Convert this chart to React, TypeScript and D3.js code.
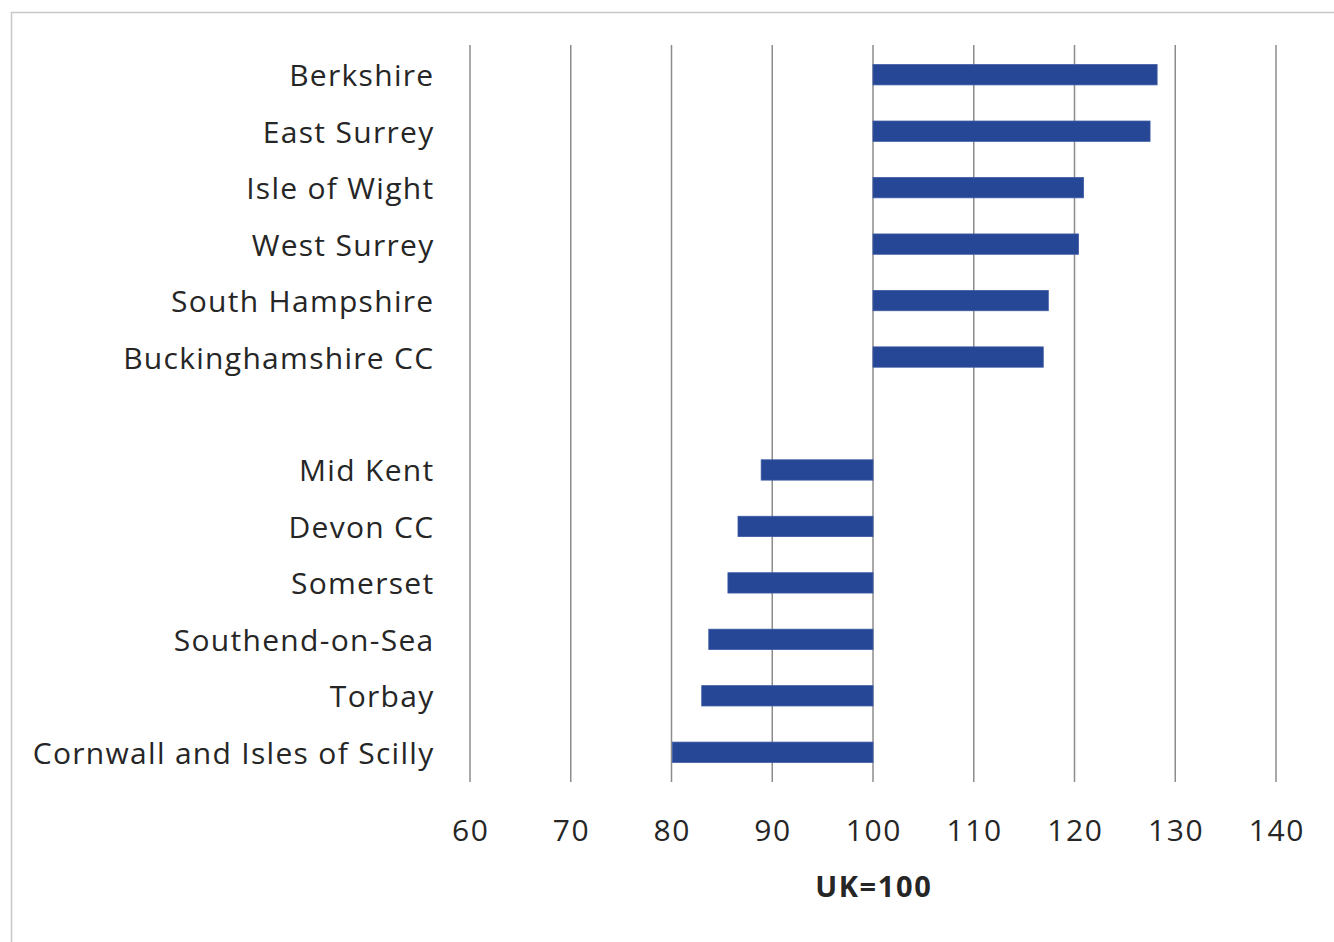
import React from "react";
import * as d3 from "d3";

const categories = [
  "Berkshire",
  "East Surrey",
  "Isle of Wight",
  "West Surrey",
  "South Hampshire",
  "Buckinghamshire CC",
  "",
  "Mid Kent",
  "Devon CC",
  "Somerset",
  "Southend-on-Sea",
  "Torbay",
  "Cornwall and Isles of Scilly",
];
const values: (number | null)[] = [
  128.2, 127.5, 120.9, 120.4, 117.4, 116.9, null, 88.9, 86.6, 85.6, 83.7, 83.0, 80.1,
];
const tickValues = [60, 70, 80, 90, 100, 110, 120, 130, 140];
const axisTitle = "UK=100";
const baseline = 100;

const W = 1334;
const H = 942;
const plotLeft = 470;
const plotRight = 1276;
const gridTop = 45;
const gridBottom = 782;
const FONT = "'Open Sans', Lato, sans-serif";

export default function App() {
  const x = d3.scaleLinear().domain([60, 140]).range([plotLeft, plotRight]);
  const y = d3
    .scaleBand<number>()
    .domain(categories.map((_, i) => i))
    .range([46.5, 780.5])
    .paddingInner(0.64)
    .paddingOuter(0.32);
  const bh = y.bandwidth();

  return (
    <div style={{ position: "absolute", left: 0, top: 0 }}>
      <svg width={W} height={H} style={{ display: "block" }}>
        <rect x={0} y={0} width={W} height={H} fill="#fff" />
        <path d={`M11.5,${H} V12.5 H${W}`} fill="none" stroke="#c8c8c8" strokeWidth={1.5} />
        {tickValues.map((t) => (
          <line
            key={t}
            x1={x(t)}
            x2={x(t)}
            y1={gridTop}
            y2={gridBottom}
            stroke="#8c8c8c"
            strokeWidth={1.5}
          />
        ))}
        {values.map((v, i) =>
          v == null ? null : (
            <rect
              key={i}
              x={Math.min(x(v), x(baseline))}
              y={(y(i) as number)}
              width={Math.abs(x(v) - x(baseline))}
              height={bh}
              fill="#264796"
              stroke="#3d5aa5"
              strokeWidth={0.8}
            />
          )
        )}
        {categories.map((c, i) =>
          c ? (
            <text
              key={c}
              x={434.5}
              y={(y(i) as number) + bh / 2}
              textAnchor="end"
              dominantBaseline="central"
              fontFamily={FONT}
              fontSize={30}
              letterSpacing={1.3}
              fill="#262626"
            >
              {c}
            </text>
          ) : null
        )}
        {tickValues.map((t) => (
          <text
            key={t}
            x={x(t) + 0.8}
            y={829}
            textAnchor="middle"
            dominantBaseline="central"
            fontFamily={FONT}
            fontSize={30}
            letterSpacing={1.6}
            fill="#262626"
          >
            {t}
          </text>
        ))}
        <text
          x={x(100) + 0.8}
          y={885}
          textAnchor="middle"
          dominantBaseline="central"
          fontFamily={FONT}
          fontSize={29}
          fontWeight="bold"
          letterSpacing={1.6}
          fill="#262626"
        >
          {axisTitle}
        </text>
      </svg>
    </div>
  );
}
